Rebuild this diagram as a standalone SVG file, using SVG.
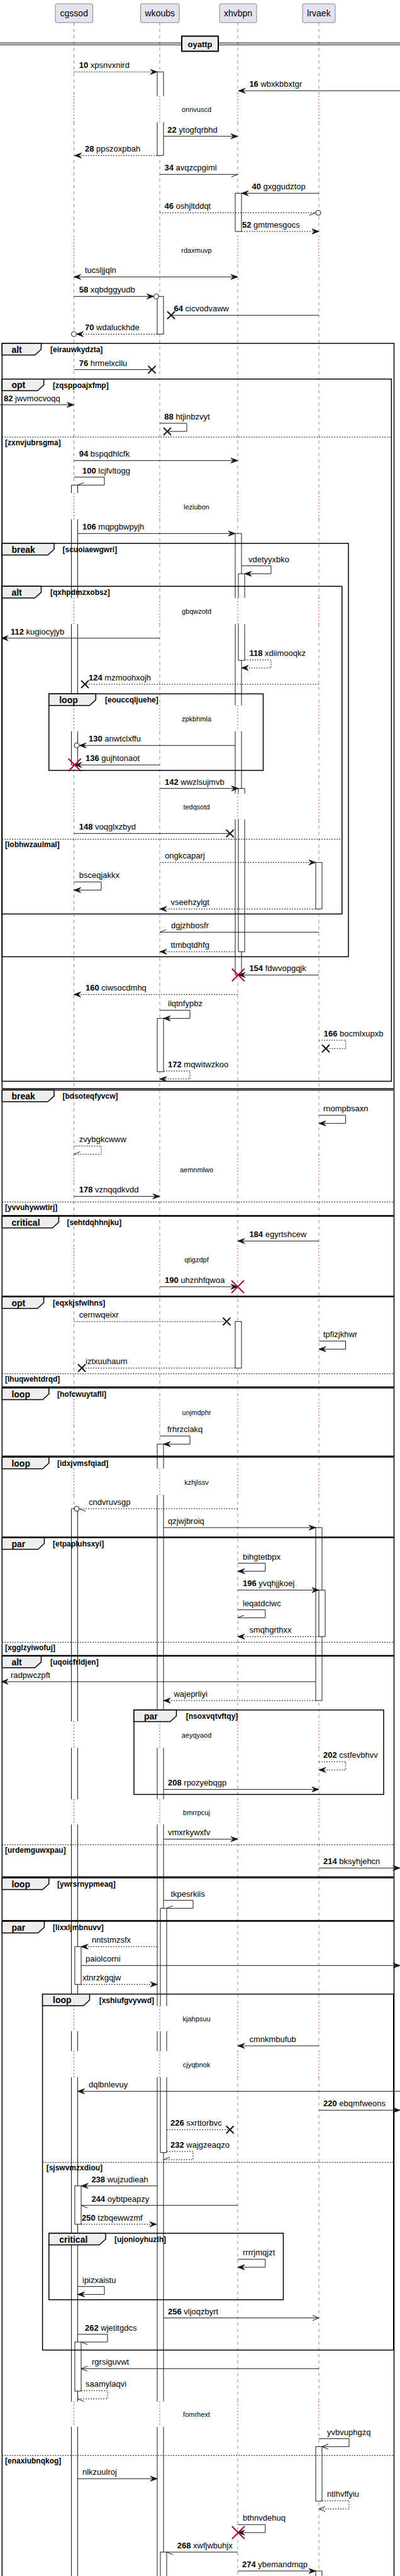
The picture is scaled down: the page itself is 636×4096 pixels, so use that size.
<svg xmlns="http://www.w3.org/2000/svg" width="636" height="4096" viewBox="0 0 636 4096">
<style>
.pb{fill:#E2E2F0;stroke:#181818;stroke-width:0.5}
.pt{font-family:"Liberation Sans",Arial,sans-serif;font-size:14px;fill:#000;text-anchor:middle}
.ll{fill:none;stroke:#181818;stroke-width:0.5;stroke-dasharray:5,5}
.dl{fill:none;stroke:#A80036;stroke-width:1;stroke-dasharray:1.5,3.5}
.ab{fill:#fff;stroke:none}
.ao{fill:none;stroke:#181818;stroke-width:1}
.act{fill:#fff;stroke:#181818;stroke-width:1}
.fr{fill:none;stroke:#000;stroke-width:1.5}
.tab{fill:#EEEEEE;stroke:#000;stroke-width:1.5}
.sep{fill:none;stroke:#000;stroke-width:1;stroke-dasharray:2,2}
.m{fill:none;stroke:#181818;stroke-width:1}
.d{stroke-dasharray:2,2}
.xk{fill:none;stroke:#181818;stroke-width:2}
.xr{fill:none;stroke:#A80036;stroke-width:2}
.ci{fill:#fff;stroke:#181818;stroke-width:1}
.t{font-family:"Liberation Sans",Arial,sans-serif;font-size:13px;fill:#000}
.b{font-weight:bold}
.g{font-family:"Liberation Sans",Arial,sans-serif;font-size:12px;font-weight:bold;fill:#000}
.k{font-family:"Liberation Sans",Arial,sans-serif;font-size:14px;font-weight:bold;fill:#000}
.dt{font-family:"Liberation Sans",Arial,sans-serif;font-size:11px;fill:#000;text-anchor:middle}
</style>
<defs>
<marker id="f" viewBox="-12 -6 13 12" refX="0" refY="0" markerWidth="13" markerHeight="12" markerUnits="userSpaceOnUse" orient="auto"><path d="M0,0L-11,-4L-7,0L-11,4Z" fill="#181818" stroke="#181818" stroke-width="1" stroke-dasharray="none"/></marker>
<marker id="fs" viewBox="-12 -6 13 12" refX="0" refY="0" markerWidth="13" markerHeight="12" markerUnits="userSpaceOnUse" orient="auto-start-reverse"><path d="M0,0L-11,-4L-7,0L-11,4Z" fill="#181818" stroke="#181818" stroke-width="1" stroke-dasharray="none"/></marker>
<marker id="hp" viewBox="-12 -6 13 12" refX="0" refY="0" markerWidth="13" markerHeight="12" markerUnits="userSpaceOnUse" orient="auto"><path d="M0,0L-10,4" fill="none" stroke="#181818" stroke-width="1" stroke-dasharray="none"/></marker>
<marker id="hm" viewBox="-12 -6 13 12" refX="0" refY="0" markerWidth="13" markerHeight="12" markerUnits="userSpaceOnUse" orient="auto"><path d="M0,0L-10,-4" fill="none" stroke="#181818" stroke-width="1" stroke-dasharray="none"/></marker>
<marker id="ov" viewBox="-12 -6 13 12" refX="0" refY="0" markerWidth="13" markerHeight="12" markerUnits="userSpaceOnUse" orient="auto"><path d="M-10,-4L0,0L-10,4" fill="none" stroke="#181818" stroke-width="1" stroke-dasharray="none"/></marker>
</defs>
<rect x="0" y="0" width="636" height="4096" fill="#fff"/>

<g id="lifelines">
<path class="ll" d="M117.5,36V152.7M117.5,194.3V375.3M117.5,420.3V784M117.5,825.7V950.7M117.5,992.3V1121.7M117.5,1162.7V1261.7M117.5,1302.7V1836.7M117.5,1880V1980M117.5,2025V2224.7M117.5,2265.3V2335.3M117.5,2377V2737M117.5,2779.3V2861M117.5,2901V3189.7M117.5,3229.7V3261.3M117.5,3303V3818.7M117.5,3858.7V4096"/>
<path class="ll" d="M254,36V152.7M254,194.3V375.3M254,420.3V784M254,825.7V950.7M254,992.3V1121.7M254,1162.7V1261.7M254,1302.7V1836.7M254,1880V1980M254,2025V2224.7M254,2265.3V2335.3M254,2377V2737M254,2779.3V2861M254,2901V3189.7M254,3229.7V3261.3M254,3303V3818.7M254,3858.7V4096"/>
<path class="ll" d="M378,36V152.7M378,194.3V375.3M378,420.3V784M378,825.7V950.7M378,992.3V1121.7M378,1162.7V1261.7M378,1302.7V1836.7M378,1880V1980M378,2025V2224.7M378,2265.3V2335.3M378,2377V2737M378,2779.3V2861M378,2901V3189.7M378,3229.7V3261.3M378,3303V3818.7M378,3858.7V4096"/>
<path class="ll" d="M507,36V152.7M507,194.3V375.3M507,420.3V784M507,825.7V950.7M507,992.3V1121.7M507,1162.7V1261.7M507,1302.7V1836.7M507,1880V1980M507,2025V2224.7M507,2265.3V2335.3M507,2377V2737M507,2779.3V2861M507,2901V3189.7M507,3229.7V3261.3M507,3303V3818.7M507,3858.7V4096"/>
<path class="dl" d="M117.5,152.7V194.3M117.5,375.3V420.3M117.5,784V825.7M117.5,950.7V992.3M117.5,1121.7V1162.7M117.5,1261.7V1302.7M117.5,1836.7V1880M117.5,1980V2025M117.5,2224.7V2265.3M117.5,2335.3V2377M117.5,2737V2779.3M117.5,2861V2901M117.5,3189.7V3229.7M117.5,3261.3V3303M117.5,3818.7V3858.7"/>
<path class="dl" d="M254,152.7V194.3M254,375.3V420.3M254,784V825.7M254,950.7V992.3M254,1121.7V1162.7M254,1261.7V1302.7M254,1836.7V1880M254,1980V2025M254,2224.7V2265.3M254,2335.3V2377M254,2737V2779.3M254,2861V2901M254,3189.7V3229.7M254,3261.3V3303M254,3818.7V3858.7"/>
<path class="dl" d="M378,152.7V194.3M378,375.3V420.3M378,784V825.7M378,950.7V992.3M378,1121.7V1162.7M378,1261.7V1302.7M378,1836.7V1880M378,1980V2025M378,2224.7V2265.3M378,2335.3V2377M378,2737V2779.3M378,2861V2901M378,3189.7V3229.7M378,3261.3V3303M378,3818.7V3858.7"/>
<path class="dl" d="M507,152.7V194.3M507,375.3V420.3M507,784V825.7M507,950.7V992.3M507,1121.7V1162.7M507,1261.7V1302.7M507,1836.7V1880M507,1980V2025M507,2224.7V2265.3M507,2335.3V2377M507,2737V2779.3M507,2861V2901M507,3189.7V3229.7M507,3261.3V3303M507,3818.7V3858.7"/>
</g>

<g id="p-cgssod"><rect class="pb" x="88" y="6" width="59.5" height="30" rx="2.5"/><text class="pt" x="117.75" y="26">cgssod</text></g>
<g id="p-wkoubs"><rect class="pb" x="223.5" y="6" width="61.5" height="30" rx="2.5"/><text class="pt" x="254.25" y="26">wkoubs</text></g>
<g id="p-xhvbpn"><rect class="pb" x="349" y="6" width="59" height="30" rx="2.5"/><text class="pt" x="378.5" y="26">xhvbpn</text></g>
<g id="p-lrvaek"><rect class="pb" x="481" y="6" width="52" height="30" rx="2.5"/><text class="pt" x="507" y="26">lrvaek</text></g>

<g id="activations">
<rect class="ab" x="250" y="114.3" width="10" height="38.4"/><rect class="ab" x="250" y="194.3" width="10" height="53"/>
<path class="ao" d="M250,114.3H260M250,114.3V152.7M260,114.3V152.7M250,194.3V247.3M260,194.3V247.3M250,247.3H260"/>
<rect class="act" x="250" y="471.3" width="10" height="60"/>
<rect class="act" x="250" y="1619.3" width="10" height="84.7"/>
<rect class="ab" x="250" y="2296.3" width="10" height="39"/><rect class="ab" x="250" y="2377" width="10" height="360"/><rect class="ab" x="250" y="2779.3" width="10" height="81.7"/><rect class="ab" x="250" y="2901" width="10" height="288.7"/><rect class="ab" x="250" y="3229.7" width="10" height="31.6"/><rect class="ab" x="250" y="3303" width="10" height="515.7"/><rect class="ab" x="250" y="3858.7" width="10" height="237.3"/>
<path class="ao" d="M250,2296.3H260M250,2296.3V2335.3M260,2296.3V2335.3M250,2377V2737M260,2377V2737M250,2779.3V2861M260,2779.3V2861M250,2901V3189.7M260,2901V3189.7M250,3229.7V3261.3M260,3229.7V3261.3M250,3303V3818.7M260,3303V3818.7M250,3858.7V4096M260,3858.7V4096"/>
<rect class="ab" x="255" y="3034.3" width="10" height="155.4"/><rect class="ab" x="255" y="3229.7" width="10" height="31.6"/><rect class="ab" x="255" y="3303" width="10" height="119.7"/>
<path class="ao" d="M255,3034.3H265M255,3034.3V3189.7M265,3034.3V3189.7M255,3229.7V3261.3M265,3229.7V3261.3M255,3303V3422.7M265,3303V3422.7M255,3422.7H265"/>
<rect class="act" x="255" y="4058" width="10" height="45"/>

<rect class="ab" x="113.5" y="771.3" width="10" height="12.7"/><rect class="ab" x="113.5" y="825.7" width="10" height="125"/><rect class="ab" x="113.5" y="992.3" width="10" height="129.4"/><rect class="ab" x="113.5" y="1162.7" width="10" height="53.6"/>
<path class="ao" d="M113.5,771.3H123.5M113.5,771.3V784M123.5,771.3V784M113.5,825.7V950.7M123.5,825.7V950.7M113.5,992.3V1121.7M123.5,992.3V1121.7M113.5,1162.7V1216.3M123.5,1162.7V1216.3M113.5,1216.3H123.5"/>
<rect class="ab" x="113.5" y="2399" width="10" height="338"/><rect class="ab" x="113.5" y="2779.3" width="10" height="81.7"/><rect class="ab" x="113.5" y="2901" width="10" height="288.7"/><rect class="ab" x="113.5" y="3229.7" width="10" height="31.6"/><rect class="ab" x="113.5" y="3303" width="10" height="515.7"/><rect class="ab" x="113.5" y="3858.7" width="10" height="237.3"/>
<path class="ao" d="M113.5,2399H123.5M113.5,2399V2737M123.5,2399V2737M113.5,2779.3V2861M123.5,2779.3V2861M113.5,2901V3189.7M123.5,2901V3189.7M113.5,3229.7V3261.3M123.5,3229.7V3261.3M113.5,3303V3818.7M123.5,3303V3818.7M113.5,3858.7V4096M123.5,3858.7V4096"/>
<rect class="act" x="119" y="3095.3" width="10" height="60"/>
<rect class="act" x="119" y="3475.7" width="10" height="61"/>
<rect class="act" x="119" y="3724" width="10" height="78"/>

<rect class="act" x="374" y="307.3" width="10" height="60.7"/>
<rect class="ab" x="374" y="848.3" width="10" height="102.4"/><rect class="ab" x="374" y="992.3" width="10" height="129.4"/><rect class="ab" x="374" y="1162.7" width="10" height="99"/><rect class="ab" x="374" y="1302.7" width="10" height="247.6"/>
<path class="ao" d="M374,848.3H384M374,848.3V950.7M384,848.3V950.7M374,992.3V1121.7M384,992.3V1121.7M374,1162.7V1261.7M384,1162.7V1261.7M374,1302.7V1550.3M384,1302.7V1550.3M374,1550.3H384"/>
<rect class="ab" x="379" y="912.3" width="10" height="38.4"/><rect class="ab" x="379" y="992.3" width="10" height="57.7"/>
<path class="ao" d="M379,912.3H389M379,912.3V950.7M389,912.3V950.7M379,992.3V1050M389,992.3V1050M379,1050H389"/>
<rect class="ab" x="379" y="1253.7" width="10" height="8"/><rect class="ab" x="379" y="1302.7" width="10" height="210.6"/>
<path class="ao" d="M379,1253.7H389M379,1253.7V1261.7M389,1253.7V1261.7M379,1302.7V1513.3M389,1302.7V1513.3M379,1513.3H389"/>
<rect class="act" x="374" y="2101.3" width="10" height="74"/>

<rect class="act" x="502" y="1371.3" width="10" height="74"/>
<rect class="act" x="502" y="2429" width="10" height="275"/>
<rect class="act" x="507" y="2528.3" width="10" height="74"/>
<rect class="act" x="502" y="3890.3" width="10" height="86.7"/>
<rect class="act" x="502" y="4088" width="10" height="20"/>
</g>

<g id="div-oyattp"><path d="M0,68.3H636M0,71.3H636" stroke="#000" stroke-width="1" fill="none"/><rect x="289" y="57.5" width="58" height="24" fill="#EEEEEE" stroke="#000" stroke-width="2"/><text class="k" x="318" y="74.5" text-anchor="middle" style="font-size:13px">oyattp</text></g>

<g id="frames">
<g id="f-alt1"><rect class="fr" x="3.3" y="546" width="623.2" height="1185"/><path class="tab" d="M3.3,546H65.5V555.5L55.5,564.5H3.3Z"/><text class="k" x="18.4" y="560.5">alt</text><text class="g" x="80" y="560">[eirauwkydzta]</text></g>
<g id="f-opt1"><rect class="fr" x="3.3" y="602.7" width="619.1" height="1116.6"/><path class="tab" d="M3.3,602.7H69.6V612.2L59.6,621.2H3.3Z"/><text class="k" x="18.4" y="617.2">opt</text><text class="g" x="84" y="616.7">[zqsppoajxfmp]</text><path class="sep" d="M3.3,695H622.4"/><text class="g" x="8" y="707.5">[zxnvjubrsgma]</text></g>
<g id="f-break1"><rect class="fr" x="3.3" y="864" width="550.7" height="657.3"/><path class="tab" d="M3.3,864H86V873.5L76,882.5H3.3Z"/><text class="k" x="18.4" y="878.5">break</text><text class="g" x="99.5" y="878">[scuoiaewgwri]</text></g>
<g id="f-alt2"><rect class="fr" x="3.3" y="932.3" width="540.5" height="521"/><path class="tab" d="M3.3,932.3H65.5V941.8L55.5,950.8H3.3Z"/><text class="k" x="18.4" y="946.8">alt</text><text class="g" x="80" y="946.3">[qxhpdmzxobsz]</text><path class="sep" d="M3.3,1334.3H543.8"/><text class="g" x="8" y="1346.8">[lobhwzaulmal]</text></g>
<g id="f-loop1"><rect class="fr" x="77.8" y="1103.3" width="340.7" height="121.7"/><path class="tab" d="M77.8,1103.3H152.3V1112.8L142.3,1121.8H77.8Z"/><text class="k" x="94.2" y="1117.8">loop</text><text class="g" x="167" y="1117.3">[eouccqljuehe]</text></g>
<g id="f-break2"><rect class="fr" x="3.3" y="1733.3" width="623.2" height="199.4"/><path class="tab" d="M3.3,1733.3H86V1742.8L76,1751.8H3.3Z"/><text class="k" x="18.4" y="1747.8">break</text><text class="g" x="99.5" y="1747.3">[bdsoteqfyvcw]</text><path class="sep" d="M3.3,1911.3H626.5"/><text class="g" x="8" y="1923.8">[yvvuhywwtirj]</text></g>
<g id="f-critical1"><rect class="fr" x="3.3" y="1934" width="623.2" height="127"/><path class="tab" d="M3.3,1934H93.4V1943.5L83.4,1952.5H3.3Z"/><text class="k" x="18.4" y="1948.5">critical</text><text class="g" x="106.5" y="1948">[sehtdqhhnjku]</text></g>
<g id="f-opt2"><rect class="fr" x="3.3" y="2062" width="623.2" height="143.3"/><path class="tab" d="M3.3,2062H69.6V2071.5L59.6,2080.5H3.3Z"/><text class="k" x="18.4" y="2076.5">opt</text><text class="g" x="84" y="2076">[eqxkjsfwlhns]</text><path class="sep" d="M3.3,2184.3H626.5"/><text class="g" x="8" y="2196.8">[lhuqwehtdrqd]</text></g>
<g id="f-loop2"><rect class="fr" x="3.3" y="2207" width="623.2" height="108.3"/><path class="tab" d="M3.3,2207H77.8V2216.5L67.8,2225.5H3.3Z"/><text class="k" x="18.4" y="2221.5">loop</text><text class="g" x="91" y="2221">[hofcwuytafll]</text></g>
<g id="f-loop3"><rect class="fr" x="3.3" y="2317" width="623.2" height="127"/><path class="tab" d="M3.3,2317H77.8V2326.5L67.8,2335.5H3.3Z"/><text class="k" x="18.4" y="2331.5">loop</text><text class="g" x="91" y="2331">[idxjvmsfqiad]</text></g>
<g id="f-par1"><rect class="fr" x="3.3" y="2445" width="623.2" height="187.3"/><path class="tab" d="M3.3,2445H70.4V2454.5L60.4,2463.5H3.3Z"/><text class="k" x="18.4" y="2459.5">par</text><text class="g" x="84" y="2459">[etpapluhsxyi]</text><path class="sep" d="M3.3,2611.3H626.5"/><text class="g" x="8" y="2623.8">[xgglzyiwofuj]</text></g>
<g id="f-alt3"><rect class="fr" x="3.3" y="2633.3" width="623.2" height="351"/><path class="tab" d="M3.3,2633.3H65.5V2642.8L55.5,2651.8H3.3Z"/><text class="k" x="18.4" y="2647.8">alt</text><text class="g" x="80" y="2647.3">[uqoicfrldjen]</text><path class="sep" d="M3.3,2933.3H626.5"/><text class="g" x="8" y="2945.8">[urdemguwxpau]</text></g>
<g id="f-par2"><rect class="fr" x="213" y="2719" width="397" height="134.3"/><path class="tab" d="M213,2719H280.5V2728.5L270.5,2737.5H213Z"/><text class="k" x="229" y="2733.5">par</text><text class="g" x="295.7" y="2733">[nsoxvqtvftqy]</text></g>
<g id="f-loop4"><rect class="fr" x="3.3" y="2986" width="623.2" height="67.7"/><path class="tab" d="M3.3,2986H77.8V2995.5L67.8,3004.5H3.3Z"/><text class="k" x="18.4" y="3000.5">loop</text><text class="g" x="91" y="3000">[ywrsrnypmeaq]</text></g>
<g id="f-par3"><rect class="fr" x="3.3" y="3055" width="623.2" height="1060"/><path class="tab" d="M3.3,3055H70.4V3064.5L60.4,3073.5H3.3Z"/><text class="k" x="18.4" y="3069.5">par</text><text class="g" x="84" y="3069">[lixxljmbnuvv]</text><path class="sep" d="M3.3,3904.3H626.5"/><text class="g" x="8" y="3916.8">[enaxiubnqkog]</text></g>
<g id="f-loop5"><rect class="fr" x="67.6" y="3170.7" width="558.1" height="566"/><path class="tab" d="M67.6,3170.7H142.5V3180.2L132.5,3189.2H67.6Z"/><text class="k" x="84" y="3185.2">loop</text><text class="g" x="157.7" y="3184.7">[xshiufgvyvwd]</text><path class="sep" d="M67.6,3438.3H625.7"/><text class="g" x="73.7" y="3450.8">[sjswvmzxdiou]</text></g>
<g id="f-critical2"><rect class="fr" x="77.8" y="3551" width="372.7" height="105.7"/><path class="tab" d="M77.8,3551H168V3560.5L158,3569.5H77.8Z"/><text class="k" x="94.2" y="3565.5">critical</text><text class="g" x="182" y="3565">[ujonioyhuzlh]</text></g>
</g>

<g id="delays">
<text class="dt" x="312.5" y="178">onnvuscd</text>
<text class="dt" x="312.5" y="402">rdaxmuvp</text>
<text class="dt" x="312.5" y="810.3">leziubon</text>
<text class="dt" x="312.5" y="976.3">gbqwzotd</text>
<text class="dt" x="312.5" y="1147.3">zpkbhmla</text>
<text class="dt" x="312.5" y="1287.3">tedqsotd</text>
<text class="dt" x="312.5" y="1864">aemnmlwo</text>
<text class="dt" x="312.5" y="2007.3">qtigzdpf</text>
<text class="dt" x="312.5" y="2250.3">unjmdphr</text>
<text class="dt" x="312.5" y="2361">kzhjlssv</text>
<text class="dt" x="312.5" y="2763.3">aeyqyaod</text>
<text class="dt" x="312.5" y="2886">bmrrpcuj</text>
<text class="dt" x="312.5" y="3214.3">kjahpsuu</text>
<text class="dt" x="312.5" y="3287">cjyqbnok</text>
<text class="dt" x="312.5" y="3843.3">fomrhext</text>
</g>

<g id="connectors">
<path class="m d" d="M117.5,114.3H250" marker-end="url(#f)"/>
<path class="m" d="M636,144.3H379" marker-end="url(#f)"/>
<path class="m" d="M260,216.7H378" marker-end="url(#f)"/>
<path class="m d" d="M250,247.3H118.5" marker-end="url(#f)"/>
<path class="m" d="M254,277.3H378" marker-end="url(#hp)"/>
<path class="m" d="M507,307.3H384" marker-end="url(#f)"/>
<path class="m d" d="M254,338.3H502" marker-end="url(#hp)"/><circle class="ci" cx="506" cy="338.3" r="4"/>
<path class="m d" d="M384,368H507" marker-end="url(#f)"/>
<path class="m" d="M117.5,440.3H378" marker-start="url(#fs)" marker-end="url(#f)"/>
<path class="m" d="M117.5,471.3H244.5" marker-end="url(#f)"/><circle class="ci" cx="248.5" cy="471.3" r="4"/>
<path class="m" d="M507,501.3H272"/><path class="xk" d="M266,495.3l12,12m0,-12l-12,12"/>
<path class="m d" d="M250,531.3H121.5" marker-end="url(#f)"/><circle class="ci" cx="117.5" cy="531.3" r="4"/>
<path class="m" d="M117.5,587.7H241.6"/><path class="xk" d="M235.6,581.7l12,12m0,-12l-12,12"/>
<path class="m" d="M0,643.7H117.5" marker-end="url(#f)"/>
<path class="m" d="M254,673H297V686H266"/><path class="xk" d="M260,680l12,12m0,-12l-12,12"/>
<path class="m" d="M117.5,732.3H378" marker-end="url(#f)"/>
<path class="m" d="M117.5,758.7H166V771.3H123.5" marker-end="url(#hp)"/>
<path class="m" d="M123.5,848.3H374" marker-end="url(#f)"/>
<path class="m" d="M384,899.7H431V912.3H389" marker-end="url(#f)"/>
<path class="m" d="M254,1014.7H2" marker-end="url(#f)"/>
<path class="m d" d="M389,1049.3H431V1062H384" marker-end="url(#f)"/>
<path class="m d" d="M507,1088H135"/><path class="xk" d="M129,1082l12,12m0,-12l-12,12"/>
<path class="m" d="M374,1185.3H126" marker-end="url(#f)"/><circle class="ci" cx="122" cy="1185.3" r="4"/>
<path class="m" d="M254,1216.3H118.7" marker-end="url(#f)"/><path class="xr" d="M108.7,1206.3l20,20m0,-20l-20,20"/>
<path class="m" d="M254,1253.7H379" marker-end="url(#f)"/>
<path class="m" d="M117.5,1325.3H365.7"/><path class="xk" d="M359.7,1319.3l12,12m0,-12l-12,12"/>
<path class="m d" d="M254,1371.3H502" marker-end="url(#f)"/>
<path class="m" d="M117.5,1402.3H161V1415.3H117.5" marker-end="url(#f)"/>
<path class="m d" d="M502,1445.3H254" marker-end="url(#f)"/>
<path class="m" d="M507,1482.3H254" marker-end="url(#hp)"/>
<path class="m d" d="M374,1513.3H254" marker-end="url(#f)"/>
<path class="m" d="M507,1550.3H379" marker-end="url(#f)"/><path class="xr" d="M368.8,1540.3l20,20m0,-20l-20,20"/>
<path class="m d" d="M378,1581.3H117.5" marker-end="url(#f)"/>
<path class="m" d="M254,1606.3H302V1619.3H260" marker-end="url(#f)"/>
<path class="m d" d="M507,1654H549.6V1667.3H518"/><path class="xk" d="M512,1661.3l12,12m0,-12l-12,12"/>
<path class="m d" d="M260,1703H302V1715.7H254" marker-end="url(#f)"/>
<path class="m" d="M507,1773.3H549.6V1786.3H507" marker-end="url(#f)"/>
<path class="m d" d="M117.5,1822.3H161V1835.3H117.5" marker-end="url(#hp)"/>
<path class="m" d="M117.5,1902.3H254" marker-end="url(#f)"/>
<path class="m" d="M507,1973.3H378" marker-end="url(#f)"/>
<path class="m" d="M254,2046H378" marker-end="url(#f)"/><path class="xr" d="M368,2036l20,20m0,-20l-20,20"/>
<path class="m d" d="M117.5,2101.3H360.4"/><path class="xk" d="M354.4,2095.3l12,12m0,-12l-12,12"/>
<path class="m" d="M507,2132.3H549.6V2145.3H507" marker-end="url(#f)"/>
<path class="m d" d="M374,2175.3H130"/><path class="xk" d="M124,2169.3l12,12m0,-12l-12,12"/>
<path class="m" d="M254,2283.3H302V2296.3H260" marker-end="url(#f)"/>
<path class="m d" d="M378,2399H126" marker-end="url(#hm)"/><circle class="ci" cx="122" cy="2399" r="4"/>
<path class="m" d="M260,2429H502" marker-end="url(#f)"/>
<path class="m" d="M378,2485.7H421.8V2498.3H378" marker-end="url(#f)"/>
<path class="m" d="M378,2528.3H507" marker-end="url(#f)"/>
<path class="m" d="M378,2559.7H421.8V2572.3H378" marker-end="url(#hp)"/>
<path class="m d" d="M507,2602.3H378" marker-end="url(#f)"/>
<path class="m" d="M502,2674H2" marker-end="url(#f)"/>
<path class="m d" d="M502,2704H260" marker-end="url(#f)"/>
<path class="m d" d="M507,2801.3H549.6V2814.3H507" marker-end="url(#f)"/>
<path class="m" d="M260,2845.3H507" marker-end="url(#f)"/>
<path class="m" d="M260,2924.3H378" marker-end="url(#f)"/>
<path class="m" d="M507,2970.3H636" marker-end="url(#f)"/>
<path class="m" d="M260,3021.7H307V3034.3H265" marker-end="url(#hp)"/>
<path class="m d" d="M250,3095.3H129" marker-end="url(#f)"/>
<path class="m" d="M129,3125.3H636" marker-end="url(#f)"/>
<path class="m d" d="M129,3155.3H250" marker-end="url(#f)"/>
<path class="m" d="M507,3253H378" marker-end="url(#f)"/>
<path class="m" d="M636,3325.3H123.5" marker-end="url(#f)"/>
<path class="m" d="M507,3355.3H636" marker-end="url(#f)"/>
<path class="m d" d="M265,3386.3H365.7"/><path class="xk" d="M359.7,3380.3l12,12m0,-12l-12,12"/>
<path class="m d" d="M265,3421H307V3434H260" marker-end="url(#hp)"/>
<path class="m" d="M250,3475.7H129" marker-end="url(#f)"/>
<path class="m" d="M378,3506.7H129" marker-end="url(#hm)"/>
<path class="m d" d="M129,3536.7H249" marker-end="url(#f)"/>
<path class="m" d="M378,3592.3H421.8V3605H378" marker-end="url(#f)"/>
<path class="m" d="M123.5,3635.7H166V3648.3H123.5" marker-end="url(#f)"/>
<path class="m" d="M260,3685.7H507" marker-end="url(#ov)"/>
<path class="m" d="M123.5,3711.7H171V3724H129" marker-end="url(#hm)"/>
<path class="m" d="M507,3766.3H129" marker-end="url(#ov)"/>
<path class="m d" d="M129,3801.3H171V3814.3H123.5" marker-end="url(#hm)"/>
<path class="m" d="M507,3877.7H555V3890.3H512" marker-end="url(#ov)"/>
<path class="m" d="M123.5,3941.3H250" marker-end="url(#f)"/>
<path class="m d" d="M512,3976.3H555V3989.3H507" marker-end="url(#ov)"/>
<path class="m" d="M378,4014.3H421.8V4027H378" marker-end="url(#f)"/><path class="xr" d="M368.8,4017l20,20m0,-20l-20,20"/>
<path class="m" d="M378,4058H265" marker-end="url(#hm)"/>
<path class="m" d="M378,4088H502" marker-end="url(#f)"/>
</g>

<g id="labels">
<text class="t" x="125.7" y="108.3"><tspan class="b">10</tspan> xpsnvxnird</text>
<text class="t" x="396.4" y="138.3"><tspan class="b">16</tspan> wbxkbbxtgr</text>
<text class="t" x="266.2" y="210.7"><tspan class="b">22</tspan> ytogfqrbhd</text>
<text class="t" x="135" y="241.3"><tspan class="b">28</tspan> ppszoxpbah</text>
<text class="t" x="261.5" y="271.3"><tspan class="b">34</tspan> avqzcpgiml</text>
<text class="t" x="400.5" y="301.3"><tspan class="b">40</tspan> gxggudztop</text>
<text class="t" x="261.5" y="332.3"><tspan class="b">46</tspan> oshjltddqt</text>
<text class="t" x="385" y="362"><tspan class="b">52</tspan> gmtmesgocs</text>
<text class="t" x="135" y="434.3">tucsljjqln</text>
<text class="t" x="125.7" y="465.3"><tspan class="b">58</tspan> xqbdggyudb</text>
<text class="t" x="276.5" y="495.3"><tspan class="b">64</tspan> cicvodvaww</text>
<text class="t" x="135" y="525.3"><tspan class="b">70</tspan> wdaluckhde</text>
<text class="t" x="125.7" y="581.7"><tspan class="b">76</tspan> hrmelxcllu</text>
<text class="t" x="6" y="637.7"><tspan class="b">82</tspan> jwvmocvoqq</text>
<text class="t" x="261.3" y="667"><tspan class="b">88</tspan> htjinbzvyt</text>
<text class="t" x="125.7" y="726.3"><tspan class="b">94</tspan> bspqdhlcfk</text>
<text class="t" x="131" y="752.7"><tspan class="b">100</tspan> lcjfvltogg</text>
<text class="t" x="131" y="842.3"><tspan class="b">106</tspan> mqpgbwpyjh</text>
<text class="t" x="395" y="893.7">vdetyyxbko</text>
<text class="t" x="17" y="1008.7"><tspan class="b">112</tspan> kugiocyjyb</text>
<text class="t" x="396.4" y="1043.3"><tspan class="b">118</tspan> xdiimooqkz</text>
<text class="t" x="141" y="1082"><tspan class="b">124</tspan> mzmoohxojh</text>
<text class="t" x="141" y="1179.3"><tspan class="b">130</tspan> anwtclxffu</text>
<text class="t" x="136" y="1210.3"><tspan class="b">136</tspan> gujhtonaot</text>
<text class="t" x="262" y="1247.7"><tspan class="b">142</tspan> wwzlsujmvb</text>
<text class="t" x="125.7" y="1319.3"><tspan class="b">148</tspan> voqglxzbyd</text>
<text class="t" x="262" y="1365.3">ongkcaparj</text>
<text class="t" x="125.7" y="1396.3">bsceqjakkx</text>
<text class="t" x="271.5" y="1439.3">vseehzylgt</text>
<text class="t" x="272" y="1476.3">dgjzhbosfr</text>
<text class="t" x="271.5" y="1507.3">ttmbqtdhfg</text>
<text class="t" x="396.4" y="1544.3"><tspan class="b">154</tspan> fdwvopgqjk</text>
<text class="t" x="136" y="1575.3"><tspan class="b">160</tspan> ciwsocdmhq</text>
<text class="t" x="267" y="1600.3">ilqtnfypbz</text>
<text class="t" x="514.7" y="1648"><tspan class="b">166</tspan> bocmlxupxb</text>
<text class="t" x="267" y="1697"><tspan class="b">172</tspan> mqwitwzkoo</text>
<text class="t" x="514" y="1767.3">rnompbsaxn</text>
<text class="t" x="125.7" y="1816.3">zvybgkcwww</text>
<text class="t" x="125.7" y="1896.3"><tspan class="b">178</tspan> vznqqdkvdd</text>
<text class="t" x="396.4" y="1967.3"><tspan class="b">184</tspan> egyrtshcew</text>
<text class="t" x="262" y="2040"><tspan class="b">190</tspan> uhznhfqwoa</text>
<text class="t" x="125.7" y="2095.3">cernwqeixr</text>
<text class="t" x="514" y="2126.3">tpfizjkhwr</text>
<text class="t" x="136" y="2169.3">iztxuuhaum</text>
<text class="t" x="266" y="2277.3">frhrzclakq</text>
<text class="t" x="141" y="2393">cndvruvsgp</text>
<text class="t" x="267" y="2423">qzjwjbroiq</text>
<text class="t" x="386" y="2479.7">bihgtetbpx</text>
<text class="t" x="386" y="2522.3"><tspan class="b">196</tspan> yvqhjjkoej</text>
<text class="t" x="386" y="2553.7">leqatdciwc</text>
<text class="t" x="396.4" y="2596.3">smqhgrthxx</text>
<text class="t" x="17" y="2668">radpwczpft</text>
<text class="t" x="276.4" y="2698">wajeprliyi</text>
<text class="t" x="514" y="2795.3"><tspan class="b">202</tspan> cstfevbhvv</text>
<text class="t" x="267" y="2839.3"><tspan class="b">208</tspan> rpozyebqgp</text>
<text class="t" x="267" y="2918.3">vmxrkywxfv</text>
<text class="t" x="514" y="2964.3"><tspan class="b">214</tspan> bksyhjehcn</text>
<text class="t" x="271.5" y="3015.7">tkpesrkiis</text>
<text class="t" x="146" y="3089.3">nntstmzsfx</text>
<text class="t" x="136" y="3119.3">paiolcorni</text>
<text class="t" x="131" y="3149.3">xtnrzkgqjw</text>
<text class="t" x="396.4" y="3247">cmnkmbufub</text>
<text class="t" x="141" y="3319.3">dqlbnlevuy</text>
<text class="t" x="514" y="3349.3"><tspan class="b">220</tspan> ebqmfweons</text>
<text class="t" x="271" y="3380.3"><tspan class="b">226</tspan> sxrttorbvc</text>
<text class="t" x="271" y="3415"><tspan class="b">232</tspan> wajgzeaqzo</text>
<text class="t" x="145.4" y="3469.7"><tspan class="b">238</tspan> wujzudieah</text>
<text class="t" x="145.4" y="3500.7"><tspan class="b">244</tspan> oybtpeapzy</text>
<text class="t" x="130" y="3530.7"><tspan class="b">250</tspan> tzbqewwzmf</text>
<text class="t" x="386" y="3586.3">rrrrjmqjzt</text>
<text class="t" x="131" y="3629.7">ipizxaistu</text>
<text class="t" x="267" y="3679.7"><tspan class="b">256</tspan> vljoqzbyrt</text>
<text class="t" x="135" y="3705.7"><tspan class="b">262</tspan> wjetitgdcs</text>
<text class="t" x="146" y="3760.3">rgrsiguvwt</text>
<text class="t" x="136" y="3795.3">saamylaqvi</text>
<text class="t" x="520" y="3871.7">yvbvuphgzq</text>
<text class="t" x="131" y="3935.3">nlkzuulroj</text>
<text class="t" x="520" y="3970.3">ntlhvffyiu</text>
<text class="t" x="386" y="4008.3">bthnvdehuq</text>
<text class="t" x="281.7" y="4052"><tspan class="b">268</tspan> xwfjwbuhjx</text>
<text class="t" x="385" y="4082"><tspan class="b">274</tspan> ybemandmqp</text>
</g>
</svg>
